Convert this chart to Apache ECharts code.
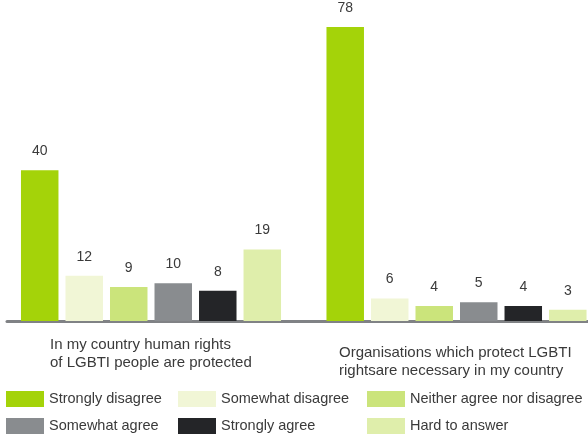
<!DOCTYPE html>
<html>
<head>
<meta charset="utf-8">
<script src="https://cdn.jsdelivr.net/npm/echarts@6/dist/echarts.min.js"></script>
<style>html,body{margin:0;padding:0;background:#fff}#c{width:588px;height:435px}</style>
</head>
<body>
<div id="c"></div>
<script>
var categories = ['In my country human rights\nof LGBTI people are protected',
                  'Organisations which protect LGBTI\nrightsare necessary in my country'];
var answers = ['Strongly disagree', 'Somewhat disagree', 'Neither agree nor disagree',
               'Somewhat agree', 'Strongly agree', 'Hard to answer'];
var humanRightsProtected = [40, 12, 9, 10, 8, 19];
var organisationsNecessary = [78, 6, 4, 5, 4, 3];
var colors = ['#a4d309', '#f1f6d6', '#cbe47b', '#898c8f', '#242528', '#dfeeab'];

var FONT = 'Liberation Sans';
var chart = echarts.init(document.getElementById('c'), null, {renderer: 'canvas'});

var series = answers.map(function (name, i) {
  return {
    name: name,
    type: 'bar',
    xAxisIndex: 0,
    yAxisIndex: 0,
    barWidth: 37.5,
    barGap: '18.7%',
    itemStyle: {color: colors[i]},
    label: {show: true, position: 'top', distance: 12, color: '#3a3a3a',
            fontSize: 14, fontFamily: FONT},
    data: [humanRightsProtected[i], organisationsNecessary[i]]
  };
});

function legendCol(names, left) {
  return {
    orient: 'vertical', left: left, top: 391, padding: 0,
    itemWidth: 38, itemHeight: 16, itemGap: 11,
    icon: 'rect', selectedMode: false,
    textStyle: {color: '#3a3a3a', fontSize: 14.5, fontFamily: FONT},
    data: names
  };
}

var titleStyle = {fontSize: 15, fontWeight: 'normal', color: '#3a3a3a', fontFamily: FONT, lineHeight: 18};

chart.setOption({
  animation: false,
  backgroundColor: '#fff',
  title: [
    {text: categories[0], left: 50, top: 336, padding: 0, textStyle: titleStyle},
    {text: categories[1], left: 339, top: 344, padding: 0, textStyle: titleStyle}
  ],
  legend: [
    legendCol([answers[0], answers[3]], 6),
    legendCol([answers[1], answers[4]], 178),
    legendCol([answers[2], answers[5]], 367)
  ],
  grid: [
    {left: -1.75, width: 611, top: 27, bottom: 114, containLabel: false, outerBoundsMode: 'none'},
    {left: 7, right: 0, top: 27, bottom: 114, containLabel: false, outerBoundsMode: 'none'}
  ],
  xAxis: [
    {type: 'category', gridIndex: 0, data: categories,
     axisLine: {show: false}, axisTick: {show: false}, axisLabel: {show: false}},
    {type: 'category', gridIndex: 1, data: [''],
     axisLine: {show: true, lineStyle: {color: '#808285', width: 3}},
     axisTick: {show: false}, axisLabel: {show: false}}
  ],
  yAxis: [
    {type: 'value', gridIndex: 0, min: 0, max: 78, show: false, splitLine: {show: false}},
    {type: 'value', gridIndex: 1, min: 0, max: 1, show: false, splitLine: {show: false}}
  ],
  series: series
});
</script>
</body>
</html>
